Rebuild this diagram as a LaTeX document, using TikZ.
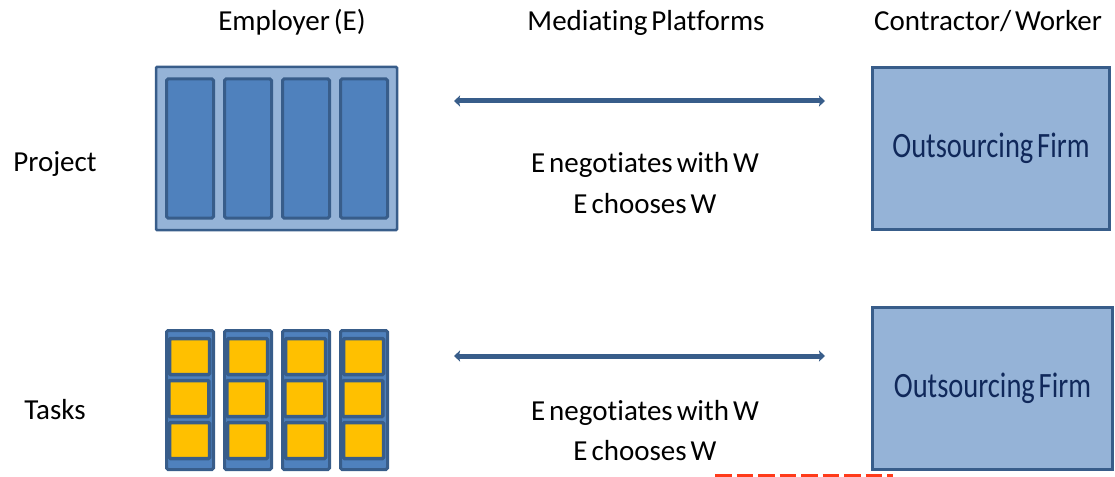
\documentclass[tikz,border=0pt]{standalone}
\usepackage{graphicx}
\usepackage{fontspec}
\setmainfont{Carlito}[Ligatures=NoCommon, WordSpace=0.6]
\usetikzlibrary{arrows.meta}
\definecolor{bdark}{HTML}{385D8A}
\definecolor{bmid}{HTML}{4F81BD}
\definecolor{blight}{HTML}{95B3D7}
\definecolor{yel}{HTML}{FFC000}
\definecolor{navy}{HTML}{10285A}
\definecolor{redd}{HTML}{FF3B1A}
\tikzset{
  lbl/.style={font=\fontsize{29}{34}\selectfont, anchor=base, inner sep=0pt},
  outerbox/.style={draw=bdark, fill=blight, line width=2.5pt, rounded corners=1pt, inner sep=0pt},
  bar/.style={draw=bdark, fill=bmid, line width=3pt, rounded corners=1.5pt, minimum width=47pt, minimum height=139pt, inner sep=0pt},
  col/.style={draw=bdark, fill=bmid, line width=3pt, rounded corners=1.5pt, minimum width=47pt, minimum height=139pt, inner sep=0pt},
  sq/.style={draw=bdark, fill=yel, line width=3.5pt, rounded corners=1pt, minimum width=40pt, minimum height=36pt, inner sep=0pt},
  firm/.style={draw=bdark, fill=blight, line width=2.5pt, inner sep=0pt, text=navy, font=\fontsize{28.5}{34}\selectfont},
  link/.style={draw=bdark, line width=5pt, {Stealth[length=6pt,width=11pt,inset=1pt]}-{Stealth[length=6pt,width=11pt,inset=1pt]}}
}
\begin{document}
\begin{tikzpicture}[x=1pt,y=-1pt]
\useasboundingbox (0,0) rectangle (1115,476);
% headers
\node[lbl] (hE) at (292,31) {Employer (E)};
\node[lbl] (hM) at (646,31) {Mediating Platforms};
\node[lbl] (hC) at (988,31) {Contractor/ Worker};
% row labels
\node[lbl] (lP) at (55,171) {Project};
\node[lbl] (lT) at (55,419) {Tasks};
% employer project box
\node[outerbox, minimum width=241pt, minimum height=163pt] (emp) at (276.5,148.5) {};
\foreach \x [count=\i] in {190,248,306,364}{
  \node[bar] (bar\i) at (\x,148.5) {};
}
% tasks
\foreach \x [count=\i] in {190,248,306,364}{
  \node[col] (col\i) at (\x,400) {};
  \node[sq] (sqa\i) at (\x-0.5,356.5) {};
  \node[sq] (sqb\i) at (\x-1.2,398.5) {};
  \node[sq] (sqc\i) at (\x-0.5,440.5) {};
}
% middle texts
\node[lbl] (n1) at (645,172) {E negotiates with W};
\node[lbl] (c1) at (645,213) {E chooses W};
\node[lbl] (n2) at (645,420) {E negotiates with W};
\node[lbl] (c2) at (645,460) {E chooses W};
% arrows
\coordinate (a1l) at (454,101);
\coordinate (a1r) at (825,101);
\coordinate (a2l) at (454,356);
\coordinate (a2r) at (825,356);
\draw[link] (a1l) -- (a1r);
\draw[link] (a2l) -- (a2r);
% firms
\node[firm, minimum width=237pt, minimum height=162pt] (f1) at (991,148.5) {\scalebox{1}[1.25]{Outsourcing Firm}};
\node[firm, minimum width=240pt, minimum height=162pt] (f2) at (992.5,388.5) {\scalebox{1}[1.25]{Outsourcing Firm}};
% red dashed fragment
\coordinate (rd1) at (715,477.5);
\coordinate (rd2) at (893,477.5);
\draw[redd, line width=7pt, dash pattern=on 16.5pt off 5pt] (rd1) -- (rd2);
\end{tikzpicture}
\end{document}
